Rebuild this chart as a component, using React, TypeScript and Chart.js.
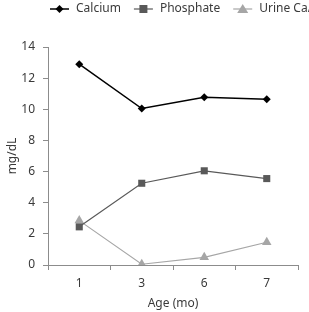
import React, { useEffect, useRef } from "react";
import { Chart, registerables } from "chart.js";

Chart.register(...registerables);

const ages = ["1", "3", "6", "7"];
const calcium = [12.9, 10.05, 10.77, 10.64];
const phosphate = [2.45, 5.25, 6.05, 5.55];
const urineCaCr = [2.85, 0.05, 0.49, 1.46];
const yTicks = [0, 2, 4, 6, 8, 10, 12, 14];

const FONT = "'Noto Sans', 'Open Sans', sans-serif";
const TEXT = "#3a3a3a";
const AXIS = "#8c8c8c";

const series = [
  { label: "Calcium", data: calcium, color: "#000000", style: "rectRot", radius: 4, width: 1.5 },
  { label: "Phosphate", data: phosphate, color: "#595959", style: "rect", radius: 5, width: 1.2 },
  { label: "Urine Ca/Cr", data: urineCaCr, color: "#a6a6a6", style: "triangle", radius: 5.5, width: 1.2 },
];

// Legend drawn in one row across the top, letting it run past the right edge
const topLegend = {
  id: "topLegend",
  afterDraw(chart: any) {
    const ctx = chart.ctx as CanvasRenderingContext2D;
    ctx.save();
    ctx.font = `12px ${FONT}`;
    ctx.textBaseline = "middle";
    let x = 50;
    const y = 9;
    series.forEach((s) => {
      ctx.strokeStyle = s.color;
      ctx.lineWidth = s.width;
      ctx.beginPath();
      ctx.moveTo(x, y);
      ctx.lineTo(x + 19, y);
      ctx.stroke();
      ctx.fillStyle = s.color;
      ctx.beginPath();
      const cx = x + 9.5;
      if (s.style === "rectRot") {
        ctx.moveTo(cx, y - 4);
        ctx.lineTo(cx + 4, y);
        ctx.lineTo(cx, y + 4);
        ctx.lineTo(cx - 4, y);
      } else if (s.style === "rect") {
        ctx.rect(cx - 4, y - 4, 8, 8);
      } else {
        ctx.moveTo(cx, y - 5);
        ctx.lineTo(cx + 5.5, y + 4);
        ctx.lineTo(cx - 5.5, y + 4);
      }
      ctx.closePath();
      ctx.fill();
      ctx.fillStyle = TEXT;
      ctx.textAlign = "left";
      ctx.fillText(s.label, x + 26, y);
      x += 26 + ctx.measureText(s.label).width + 13;
    });
    ctx.restore();
  },
};

export default function App() {
  const ref = useRef<HTMLCanvasElement>(null);

  useEffect(() => {
    if (!ref.current) return;
    const chart = new Chart(ref.current, {
      type: "line",
      data: {
        labels: ages,
        datasets: series.map((s) => ({
          label: s.label,
          data: s.data,
          borderColor: s.color,
          backgroundColor: s.color,
          borderWidth: s.width,
          pointStyle: s.style as any,
          pointRadius: s.radius,
          pointBorderWidth: 0,
          pointBackgroundColor: s.color,
          tension: 0,
        })),
      },
      options: {
        animation: false,
        responsive: false,
        layout: { padding: { top: 47, right: 11, left: 0, bottom: 0 } },
        plugins: {
          legend: { display: false },
          tooltip: { enabled: false },
        },
        scales: {
          x: {
            offset: true,
            grid: {
              offset: true,
              drawOnChartArea: false,
              drawTicks: true,
              tickLength: 5,
              color: AXIS,
            },
            border: { color: AXIS, width: 1 },
            ticks: { color: TEXT, font: { family: FONT, size: 12 }, padding: 6 },
            title: {
              display: true,
              text: "Age (mo)",
              color: TEXT,
              font: { family: FONT, size: 12 },
              padding: { top: 2, bottom: 1 },
            },
            afterFit: (s: any) => {
              s.height = 47;
            },
          },
          y: {
            min: 0,
            max: 14,
            afterBuildTicks: (s: any) => {
              s.ticks = yTicks.map((v) => ({ value: v }));
            },
            grid: {
              drawOnChartArea: false,
              drawTicks: true,
              tickLength: 5,
              color: AXIS,
            },
            border: { color: AXIS, width: 1 },
            ticks: { color: TEXT, font: { family: FONT, size: 12 }, padding: 8 },
            title: {
              display: true,
              text: "mg/dL",
              color: TEXT,
              font: { family: FONT, size: 12 },
              padding: { top: 5, bottom: 0 },
            },
            afterFit: (s: any) => {
              s.width = 48;
            },
          },
        },
      },
      plugins: [topLegend],
    });
    return () => chart.destroy();
  }, []);

  return (
    <div style={{ position: "fixed", left: 0, top: 0, width: 309, height: 312, background: "#fff" }}>
      <canvas ref={ref} width={309} height={312} style={{ width: 309, height: 312 }} />
    </div>
  );
}
